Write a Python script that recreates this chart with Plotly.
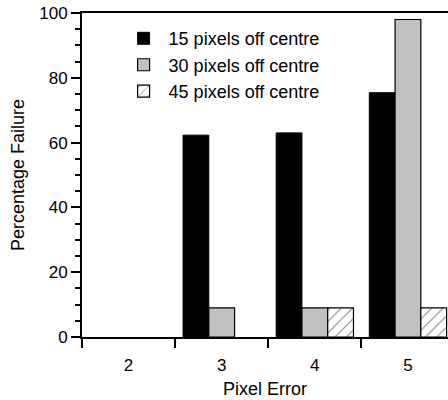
import plotly.graph_objects as go

categories = ["2", "3", "4", "5"]
s15 = [0, 62.3, 63, 75.4]
s30 = [0, 9, 9, 98]
s45 = [0, 0, 9, 9]
names = ["15 pixels off centre", "30 pixels off centre", "45 pixels off centre"]
minor_ticks = [v for v in range(0, 101, 5) if v % 20]

FONT = "Liberation Sans, Arial, sans-serif"

styles = [
    dict(color="black", line=dict(color="black", width=1)),
    dict(color="#c0c0c0", line=dict(color="black", width=1.2)),
    dict(color="white", line=dict(color="black", width=1.2),
         pattern=dict(shape="/", fgcolor="black", bgcolor="white", size=8, solidity=0.12)),
]
series = [s15, s30, s45]

fig = go.Figure()
for i, (name, vals, st) in enumerate(zip(names, series, styles)):
    m = dict(st)
    m["line"] = dict(color="black", width=[0 if v == 0 else st["line"]["width"] for v in vals])
    fig.add_trace(go.Bar(x=categories, y=vals, name=name, marker=m, showlegend=False,
                         legendgroup=name, offsetgroup=str(i)))
# legend entries (no data drawn)
for i, (name, st) in enumerate(zip(names, styles)):
    fig.add_trace(go.Bar(x=[None], y=[None], name=name, marker=st, legendgroup=name,
                         offsetgroup=str(i)))

fig.update_layout(
    width=448, height=400,
    margin=dict(l=82, r=0, t=13, b=63),
    plot_bgcolor="white", paper_bgcolor="white",
    barmode="group", bargap=0.17, bargroupgap=0,
    font=dict(family=FONT, size=17, color="black"),
    showlegend=True,
    legend=dict(x=0.1, y=0.978, xanchor="left", yanchor="top",
                bgcolor="rgba(0,0,0,0)", font=dict(size=18), itemwidth=40,
                traceorder="normal", tracegroupgap=0),
)
fig.update_xaxes(
    type="category", range=[-0.5, 3.43],
    showline=True, linecolor="black", linewidth=2, mirror=True, layer="above traces",
    ticks="outside", tickson="boundaries", ticklen=9, tickwidth=1.5, tickcolor="black",
    ticklabelstandoff=12,
    showgrid=False, zeroline=False,
    title=dict(text="Pixel Error", font=dict(size=18), standoff=8),
)
fig.update_yaxes(
    range=[0, 100], tick0=0, dtick=20,
    showline=True, linecolor="black", linewidth=2, layer="above traces",
    ticks="outside", ticklen=9, tickwidth=1.5, tickcolor="black",
    minor=dict(tickmode="array", tickvals=minor_ticks, ticks="outside", ticklen=5,
               tickwidth=1.5, tickcolor="black", showgrid=False),
    showgrid=False, zeroline=False,
    title=dict(text="Percentage Failure", font=dict(size=18), standoff=10),
)

fig.write_html("out.html")
